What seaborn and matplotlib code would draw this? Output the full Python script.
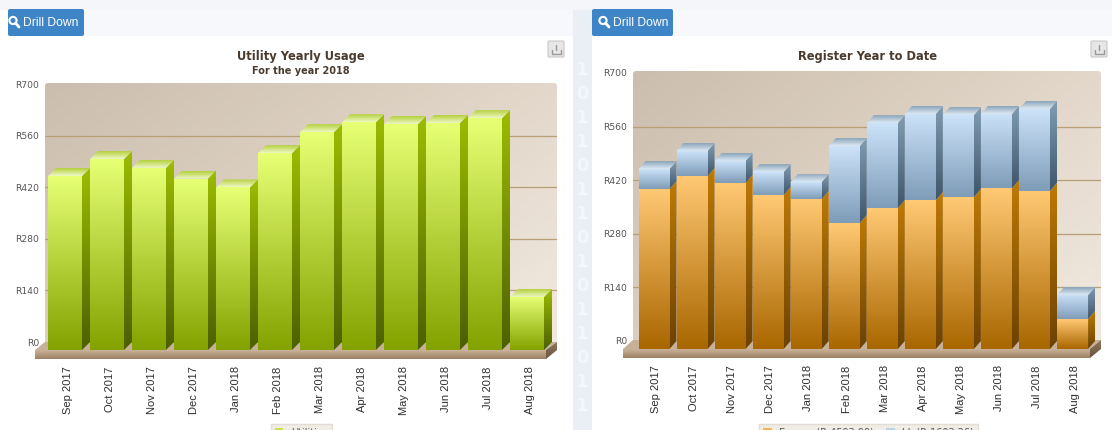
import numpy as np
import matplotlib
matplotlib.use("Agg")
import matplotlib.pyplot as plt
import seaborn as sns
from matplotlib.colors import LinearSegmentedColormap
from matplotlib.patches import Circle, FancyBboxPatch, Patch, Polygon, Rectangle
from matplotlib.transforms import Affine2D

W, H = 1112, 430

months = ["Sep 2017", "Oct 2017", "Nov 2017", "Dec 2017", "Jan 2018", "Feb 2018",
          "Mar 2018", "Apr 2018", "May 2018", "Jun 2018", "Jul 2018", "Aug 2018"]
utilities = [472, 518, 494, 465, 441, 534, 591, 618, 613, 616, 629, 144]
energy = [418, 452, 434, 402, 392, 329, 368, 389, 397, 420, 413, 78]
kl = [52, 65, 57, 60, 44, 201, 222, 225, 214, 194, 214, 63]
y_ticks = [0, 140, 280, 420, 560, 700]

GREEN = dict(front=("#e6ff74", "#84a300"), side=("#9cbc00", "#4c6000"), top=("#b4d03c", "#eef8c4"))
ORANGE = dict(front=("#ffc873", "#a96700"), side=("#bd7a06", "#6c4100"), top=("#ffd89a", "#ffd89a"))
BLUE = dict(front=("#cbe2f8", "#7f9cb8"), side=("#7f9cb3", "#3e566c"), top=("#8ba4b9", "#dce9f4"))

sns.set_theme(style="white")
plt.rcParams["font.family"] = ["DejaVu Sans"]

fig = plt.figure(figsize=(W / 100, H / 100), dpi=100)
bg = fig.add_axes([0, 0, 1, 1])
bg.set_xlim(0, W)
bg.set_ylim(H, 0)
bg.set_autoscale_on(False)
bg.axis("off")


def grad_poly(ax, verts, c_top, c_bot, z=3):
    # polygon filled with a vertical gradient, clipped to its own outline
    verts = np.asarray(verts, dtype=float)
    x0, x1 = verts[:, 0].min(), verts[:, 0].max()
    y0, y1 = verts[:, 1].min(), verts[:, 1].max()
    top, bottom = (y0, y1) if ax.yaxis_inverted() else (y1, y0)
    cmap = LinearSegmentedColormap.from_list("g", [c_top, c_bot])
    im = ax.imshow(np.linspace(0, 1, 64).reshape(-1, 1), cmap=cmap, extent=(x0, x1, bottom, top),
                   aspect="auto", origin="upper", interpolation="bilinear", zorder=z)
    im.set_clip_path(Polygon(verts, transform=ax.transData))
    im.set_clip_box(fig.bbox)


def wall(x0, x1, y0, y1):
    cmap = LinearSegmentedColormap.from_list("w", ["#cbbeae", "#dfd3c5", "#f1e9e0"])
    u, v = np.meshgrid(np.linspace(0, 1, 80), np.linspace(0, 1, 80))
    im = bg.imshow(0.6 * u + 0.4 * v, cmap=cmap, extent=(x0, x1, y1, y0), aspect="auto",
                   origin="upper", interpolation="bilinear", zorder=1)
    clip = FancyBboxPatch((x0 + 3, y0 + 3), x1 - x0 - 6, y1 - y0 - 3, boxstyle="round,pad=3",
                          transform=bg.transData)
    im.set_clip_path(clip)


def floor(x0, x1, wx0, wx1, y_back, y_front, y_low):
    bg.add_patch(Polygon([(x0, y_front), (x1, y_front), (wx1, y_back), (wx0, y_back)],
                         color="#c6b198", lw=0, zorder=2))
    grad_poly(bg, [(x0, y_front), (x1, y_front), (x1, y_low), (x0, y_low)], "#c9b398", "#9c8163", z=2)
    grad_poly(bg, [(x1, y_front), (wx1, y_back), (wx1, y_front), (x1, y_low)], "#8f7559", "#6b5540", z=2)


def button(x0, x1, ix, tx):
    bg.add_patch(FancyBboxPatch((x0 + 2, 11), x1 - x0 - 4, 23, boxstyle="round,pad=2",
                                fc="#3d85c6", ec="none", zorder=2))
    bg.add_patch(Circle((ix, 20.5), 3.6, fc="none", ec="white", lw=1.5, zorder=3))
    bg.plot([ix + 2.6, ix + 6], [23.2, 27], color="white", lw=2, zorder=3)
    bg.text(tx, 22.5, "Drill Down", color="white", fontsize=8.7, va="center",
            family="Liberation Sans", zorder=3)


def export_icon(x0):
    bg.add_patch(FancyBboxPatch((x0 + 1, 42), 14, 14, boxstyle="round,pad=1",
                                fc="#e6e6e6", ec="#c8c8c8", lw=0.8, zorder=2))
    bg.plot([x0 + 8, x0 + 8], [45, 50], color="#9a9a9a", lw=1, zorder=3)
    bg.plot([x0 + 3.5, x0 + 3.5, x0 + 12.5, x0 + 12.5], [50, 53.5, 53.5, 50], color="#9a9a9a", lw=1, zorder=3)


def bar3d(ax, patch, colors, ddx, ddy, dx, dy, with_top=True):
    x, w = patch.get_x(), patch.get_width()
    b, t = patch.get_y(), patch.get_y() + patch.get_height()
    patch.set_transform(ax.transData + Affine2D().translate(-dx, -dy))
    patch.set_clip_on(False)
    patch.set_zorder(2.5)
    patch.set_linewidth(0)
    grad_poly(ax, [(x - ddx, b - ddy), (x + w - ddx, b - ddy), (x + w - ddx, t - ddy), (x - ddx, t - ddy)],
              *colors["front"])
    grad_poly(ax, [(x + w - ddx, b - ddy), (x + w, b), (x + w, t), (x + w - ddx, t - ddy)],
              *colors["side"])
    if with_top:
        grad_poly(ax, [(x - ddx, t - ddy), (x + w - ddx, t - ddy), (x + w, t), (x, t)],
                  *colors["top"], z=3.1)


def chart_axes(wx0, wx1, wy0, wy1, first, step):
    ax = fig.add_axes([wx0 / W, 1 - wy1 / H, (wx1 - wx0) / W, (wy1 - wy0) / H], zorder=5)
    ax.patch.set_visible(False)
    ax.set_autoscale_on(False)
    xlim = ((wx0 - first) / step, (wx1 - first) / step)
    ax.set_xlim(*xlim)
    ax.set_ylim(0, 700)
    return ax


def finish_axes(ax, xlim, ddx):
    ax.set_xlim(*xlim)
    ax.set_ylim(0, 700)
    ax.set_yticks(y_ticks, [f"R{v}" for v in y_ticks])
    ax.set_xticks(np.arange(len(months)) - ddx + 0.06, months)
    ax.set_xlabel("")
    ax.set_ylabel("")
    ax.yaxis.grid(True, color="#b89f78", lw=0.9, zorder=0.5)
    ax.xaxis.grid(False)
    ax.set_axisbelow(True)
    # no rule along the top and bottom edge of the wall
    grid = ax.get_ygridlines()
    grid[0].set_visible(False)
    grid[-1].set_visible(False)
    sns.despine(ax=ax, left=True, bottom=True, top=True, right=True)
    ax.tick_params(axis="y", length=2.5, width=0.8, color="#c9bba8", pad=1.8, labelsize=6.6, labelcolor="#555555")
    ax.tick_params(axis="x", length=0, pad=17.5)
    for lab in ax.get_xticklabels():
        lab.set(rotation=90, va="top", ha="center", fontsize=8, family="Liberation Sans", color="#2e2e2e")


# page background
bg.add_patch(Rectangle((573, 0), 19, H, fc="#e9eff5", ec="none", zorder=0))
bg.add_patch(Rectangle((0, 0), W, 10, fc="#f4f6fa", ec="none", zorder=0))
for y, digit in zip(range(70, 430, 24), "101101101011011"):
    bg.text(582, y, digit, color="#f3f7fa", fontsize=13, fontweight="bold", ha="center", va="center", zorder=0.5)
bg.add_patch(Rectangle((8, 10), 565, 26, fc="#f7f8fc", ec="none", zorder=0.5))
bg.add_patch(Rectangle((592, 10), 520, 26, fc="#f7f8fc", ec="none", zorder=0.5))

button(8, 84, 13, 23)
button(592, 673, 603, 613)
export_icon(548)
export_icon(1091)

title_kw = dict(color="#4a3b2e", fontweight="bold", ha="center", va="center", zorder=3)
bg.text(300.5, 56.5, "Utility Yearly Usage", fontsize=8.3, **title_kw)
bg.text(300.5, 70.5, "For the year 2018", fontsize=7, **title_kw)
bg.text(867, 56.5, "Register Year to Date", fontsize=8.3, **title_kw)

# left chart
wall(45, 557, 83, 342)
floor(35, 546, 45, 557, 342, 350, 359)
step_l = 42.0
ax1 = chart_axes(45, 557, 84, 342, 73, step_l)
xlim1 = ax1.get_xlim()
dx1, dy1 = 8, 8
ddx1, ddy1 = dx1 / step_l, dy1 / (258 / 700)
sns.barplot(x=months, y=utilities, color=GREEN["front"][1], width=34 / step_l, saturation=1, ax=ax1)
ax1.set_xlim(*xlim1)
for p in list(ax1.patches):
    bar3d(ax1, p, GREEN, ddx1, ddy1, dx1, dy1)
finish_axes(ax1, xlim1, ddx1)
ax1.legend(handles=[Patch(fc="#c9e23f", ec="none", label="Utilities")], loc="upper center",
           bbox_to_anchor=(301.5 / W, 1 - 419 / H), bbox_transform=fig.transFigure, fontsize=7,
           frameon=True, facecolor="#f0ece6", edgecolor="#e3ddd4", fancybox=False, framealpha=1,
           handlelength=0.9, handleheight=0.9, labelcolor="#555555")

# right chart
wall(633, 1101, 71, 341)
floor(623, 1090, 633, 1101, 340, 349, 358)
step_r = 38.05
ax2 = chart_axes(633, 1101, 73, 341, 661, step_r)
xlim2 = ax2.get_xlim()
dx2, dy2 = 7, 8
ddx2, ddy2 = dx2 / step_r, dy2 / (268 / 700)
sns.barplot(x=months, y=energy, color=ORANGE["front"][1], width=31 / step_r, saturation=1, ax=ax2)
n_energy = len(ax2.patches)
sns.barplot(x=months, y=kl, bottom=energy, color=BLUE["front"][1], width=31 / step_r, saturation=1, ax=ax2)
ax2.set_xlim(*xlim2)
for i, p in enumerate(list(ax2.patches)):
    if i < n_energy:
        bar3d(ax2, p, ORANGE, ddx2, ddy2, dx2, dy2, with_top=False)
    else:
        bar3d(ax2, p, BLUE, ddx2, ddy2, dx2, dy2)
finish_axes(ax2, xlim2, ddx2)
ax2.legend(handles=[Patch(fc="#f3b552", ec="none", label="Energy (R 4593.00)"),
                    Patch(fc="#b7d2ea", ec="none", label="kL (R 1603.26)")],
           loc="upper center", ncol=2, bbox_to_anchor=(868.5 / W, 1 - 419 / H), bbox_transform=fig.transFigure,
           fontsize=7, frameon=True, facecolor="#f0ece6", edgecolor="#e3ddd4", fancybox=False, framealpha=1,
           handlelength=0.9, handleheight=0.9, columnspacing=1.2, labelcolor="#555555")

fig.savefig("out.png", dpi=100)
